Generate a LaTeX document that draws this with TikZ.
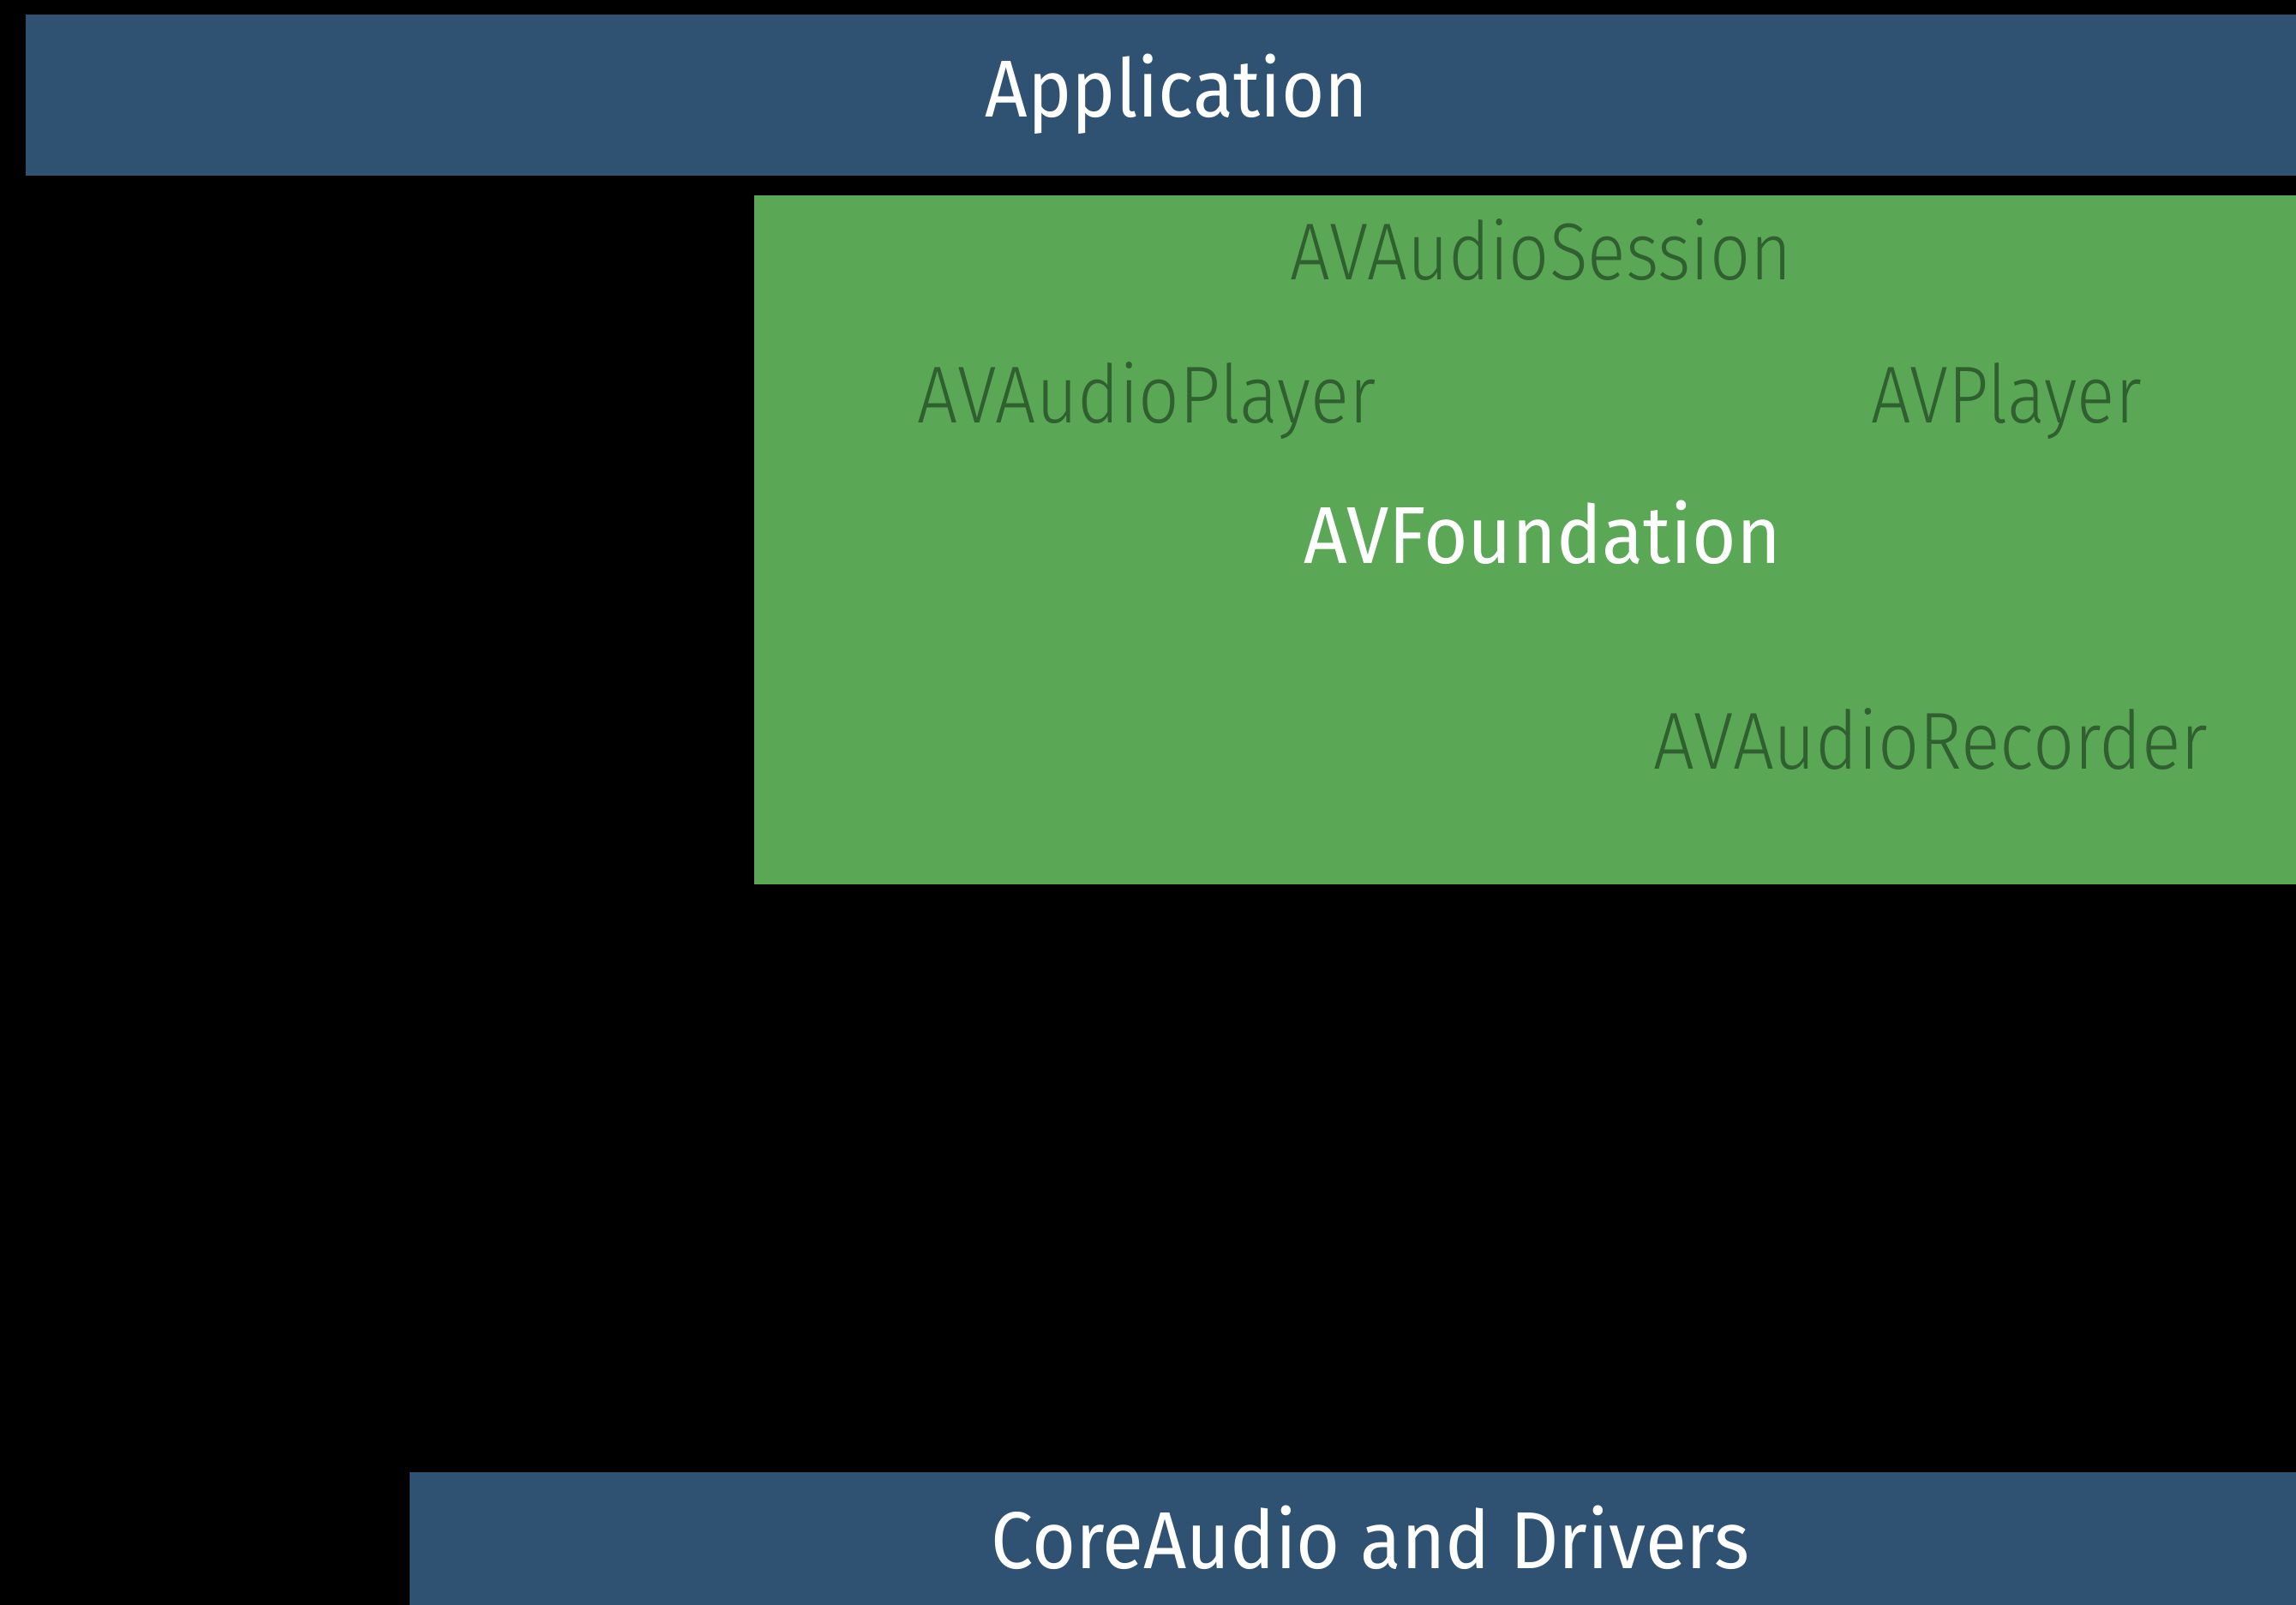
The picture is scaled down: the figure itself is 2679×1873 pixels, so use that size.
\documentclass[tikz,border=0pt]{standalone}
\usepackage{fontspec}
\usepackage{graphicx}
\setmainfont{Fira Sans}
\newfontfamily\lightfont{Fira Sans Light}
\definecolor{layerblue}{HTML}{2F5273}
\definecolor{avgreen}{HTML}{5AA855}
\definecolor{classtext}{HTML}{305F30}
% scale a text horizontally so that it spans the given width
\newlength\fitlen
\newcommand\fitto[2]{\settowidth\fitlen{#2}\pgfmathsetmacro\fitfac{#1/\fitlen}\scalebox{\fitfac}[1]{#2}}
\tikzset{
  layer/.style={inner sep=0pt, anchor=base, text=white, font=\fontsize{26.8pt}{30pt}\selectfont},
  classname/.style={inner sep=0pt, anchor=base, text=classtext, font=\lightfont\fontsize{26.8pt}{30pt}\selectfont},
}
\begin{document}
\begin{tikzpicture}[x=0.01cm, y=-0.01cm]
  \fill[black] (0,0) rectangle (2679,1873);
  \useasboundingbox (0,0) rectangle (2679,1873);
  % layers
  \fill[layerblue] (30,17) rectangle (2679,205);
  \fill[avgreen] (880,228) rectangle (2679,1032);
  \fill[layerblue] (478,1718) rectangle (2679,1873);
  % labels
  \node[layer] (app) at (1373,137) {\fitto{4.46cm}{Application}};
  \node[classname] (session) at (1798,327) {\fitto{5.85cm}{AVAudioSession}};
  \node[classname] (aplayer) at (1338,494) {\fitto{5.34cm}{AVAudioPlayer}};
  \node[classname] (player) at (2341,494) {\fitto{3.15cm}{AVPlayer}};
  \node[layer] (avf) at (1800,657) {\fitto{5.56cm}{AVFoundation}};
  \node[classname] (recorder) at (2253,897) {\fitto{6.46cm}{AVAudioRecorder}};
  \node[layer] (core) at (1599,1830) {\fitto{8.84cm}{CoreAudio and Drivers}};
\end{tikzpicture}
\end{document}
